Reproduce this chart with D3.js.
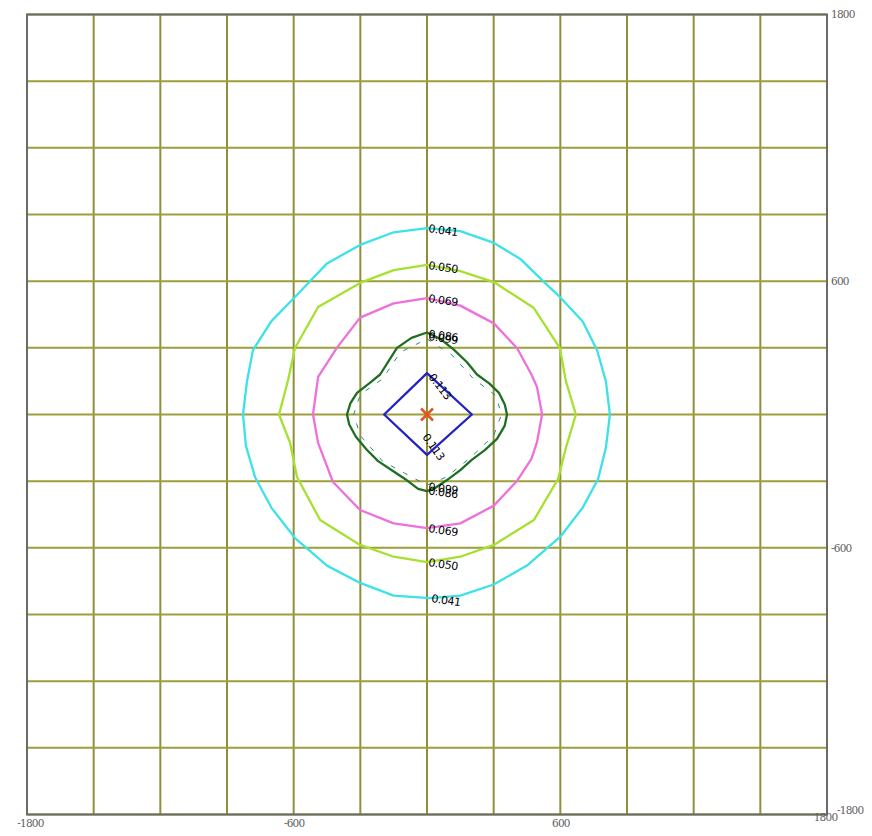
<!DOCTYPE html>
<html><head><meta charset="utf-8">
<script src="https://cdn.jsdelivr.net/npm/d3@7"></script>
<style>html,body{margin:0;padding:0;background:#fff;}</style>
</head><body>
<svg id="chart" width="872" height="836"></svg>
<script>
// ---- data ----
const gridValues = [-1800,-1500,-1200,-900,-600,-300,0,300,600,900,1200,1500,1800];
const tickLabels = [-1800,-600,600,1800];
const levelNames = ["0.041","0.050","0.069","0.086","0.099","0.113"];
const levelColors = ["#3ce2e8","#a6e030","#ee70dc","#1f6f22","#2d8c7c","#2323c4"];
const contour041 = [[0,839],[150,825],[301,772],[420,700],[527,596],[598,529],[700,420],[765,290],[805,150],[823,0],[805,-150],[770,-290],[700,-420],[600,-550],[450,-680],[300,-765],[150,-815],[13,-826],[-150,-815],[-301,-758],[-450,-680],[-594,-556],[-700,-420],[-774,-281],[-815,-140],[-828,0],[-810,150],[-783,290],[-700,420],[-594,529],[-450,680],[-301,763],[-150,820]];
const contour050 = [[0,673],[150,645],[301,596],[481,479],[598,299],[625,150],[670,0],[625,-150],[590,-290],[481,-475],[301,-587],[150,-640],[0,-664],[-150,-640],[-301,-587],[-481,-475],[-585,-281],[-616,-128],[-666,0],[-625,155],[-594,299],[-490,484],[-301,592],[-150,650]];
const contour069 = [[0,524],[150,490],[301,410],[405,299],[470,180],[495,124],[518,0],[495,-124],[470,-200],[405,-299],[301,-410],[150,-490],[0,-511],[-150,-490],[-301,-430],[-423,-304],[-490,-128],[-513,0],[-490,169],[-405,301],[-301,436],[-150,500]];
const contour086 = [[0,369],[60,340],[122,291],[180,235],[225,180],[280,140],[324,97],[350,45],[360,0],[350,-50],[315,-110],[260,-160],[200,-205],[150,-250],[90,-295],[30,-335],[0,-345],[-40,-335],[-99,-290],[-160,-250],[-220,-210],[-270,-160],[-320,-100],[-350,-45],[-360,0],[-345,50],[-315,97],[-260,140],[-211,180],[-170,245],[-135,300],[-70,345]];
const contour099 = [[0,340],[110,270],[210,160],[310,85],[335,0],[300,-95],[200,-190],[90,-280],[0,-318],[-90,-270],[-200,-210],[-300,-95],[-330,0],[-300,90],[-200,160],[-120,280]];
const contour113 = [[0,186],[202,0],[0,-182],[-193,0]];
const contours = [contour041,contour050,contour069,contour086,contour099,contour113];
const source = [0,0];

// ---- drawing ----
const svg = d3.select("#chart");
const x = d3.scaleLinear().domain([-1800,1800]).range([27,827]);
const y = d3.scaleLinear().domain([-1800,1800]).range([814.5,14.5]);

const grid = svg.append("g");
grid.selectAll("line.v").data(gridValues).join("line")
  .attr("x1",d=>x(d)).attr("x2",d=>x(d)).attr("y1",y(1800)).attr("y2",y(-1800))
  .attr("stroke","#8f8f3a").attr("stroke-width",2);
grid.selectAll("line.h").data(gridValues).join("line")
  .attr("y1",d=>y(d)).attr("y2",d=>y(d)).attr("x1",x(-1800)).attr("x2",x(1800))
  .attr("stroke","#9e9e3a").attr("stroke-width",2);
svg.append("rect").attr("x",x(-1800)).attr("y",y(1800))
  .attr("width",x(1800)-x(-1800)).attr("height",y(-1800)-y(1800))
  .attr("fill","none").attr("stroke","#6a6a6a").attr("stroke-width",2);

// axes (tick labels only)
const fmt = d=>String(d);
const bottomAxis = d3.axisBottom(x).tickValues(tickLabels).tickFormat(fmt).tickSize(0).tickPadding(5);
const gb = svg.append("g").attr("transform",`translate(0,${y(-1800)})`).call(bottomAxis);
const rightAxis = d3.axisRight(y).tickValues(tickLabels).tickFormat(fmt).tickSize(0).tickPadding(4);
const gr = svg.append("g").attr("transform",`translate(${x(1800)},0)`).call(rightAxis);
[gb,gr].forEach(g=>{
  g.select(".domain").remove();
  g.selectAll("text").attr("font-family","DejaVu Serif").attr("font-size",10.5)
   .attr("fill","#5e5e5e").attr("letter-spacing","-0.8");
});
gb.selectAll(".tick").filter(d=>d===1800).select("text").attr("dx",-2).attr("dy",1);
gb.selectAll(".tick").filter(d=>d===-1800).select("text").attr("dx",3);
gr.selectAll(".tick").filter(d=>d===-1800).select("text").attr("dx",6).attr("dy","-0.1em");

const line = d3.line().x(d=>x(d[0])).y(d=>y(d[1])).curve(d3.curveLinearClosed);
const cg = svg.append("g");
contours.forEach((c,i)=>{
  const p = cg.append("path").attr("d",line(c)).attr("fill","none")
    .attr("stroke",levelColors[i]).attr("stroke-width", i===4?1:2.3)
    .attr("stroke-linejoin","round");
  if(i===4) p.attr("stroke-dasharray","5,9");
});

// contour labels
const lg = svg.append("g").attr("font-family","DejaVu Sans").attr("font-size",11)
  .attr("fill","#000").attr("letter-spacing","-0.4");
contours.forEach((c,i)=>{
  const top = c.reduce((a,b)=> (Math.abs(b[0])<60 && b[1]>a[1]) ? b : a, [0,-1e9]);
  const bot = c.reduce((a,b)=> (Math.abs(b[0])<60 && b[1]<a[1]) ? b : a, [0,1e9]);
  const diamond = i===5;
  const rot = diamond ? 52 : 8;
  const yOff = i===3 ? 1 : (i===4 ? -3 : 0);
  lg.append("text").attr("transform",`translate(${x(top[0])+1},${y(top[1])+4+yOff}) rotate(${rot})`).text(levelNames[i]);
  const bRot = diamond ? 55 : 8;
  const bx = diamond ? x(bot[0])-5 : x(bot[0])+1;
  const by = diamond ? y(bot[1])-18 : y(bot[1])+4+(i===3?-1:0)+(i===4?1:0);
  lg.append("text").attr("transform",`translate(${bx},${by}) rotate(${bRot})`).text(levelNames[i]);
});

// source marker
const s = 6;
svg.append("g").attr("transform",`translate(${x(source[0])},${y(source[1])})`)
  .selectAll("line").data([[-s,-s,s,s],[-s,s,s,-s]]).join("line")
  .attr("x1",d=>d[0]).attr("y1",d=>d[1]).attr("x2",d=>d[2]).attr("y2",d=>d[3])
  .attr("stroke","#e2551f").attr("stroke-width",2.5);
</script>
</body></html>
